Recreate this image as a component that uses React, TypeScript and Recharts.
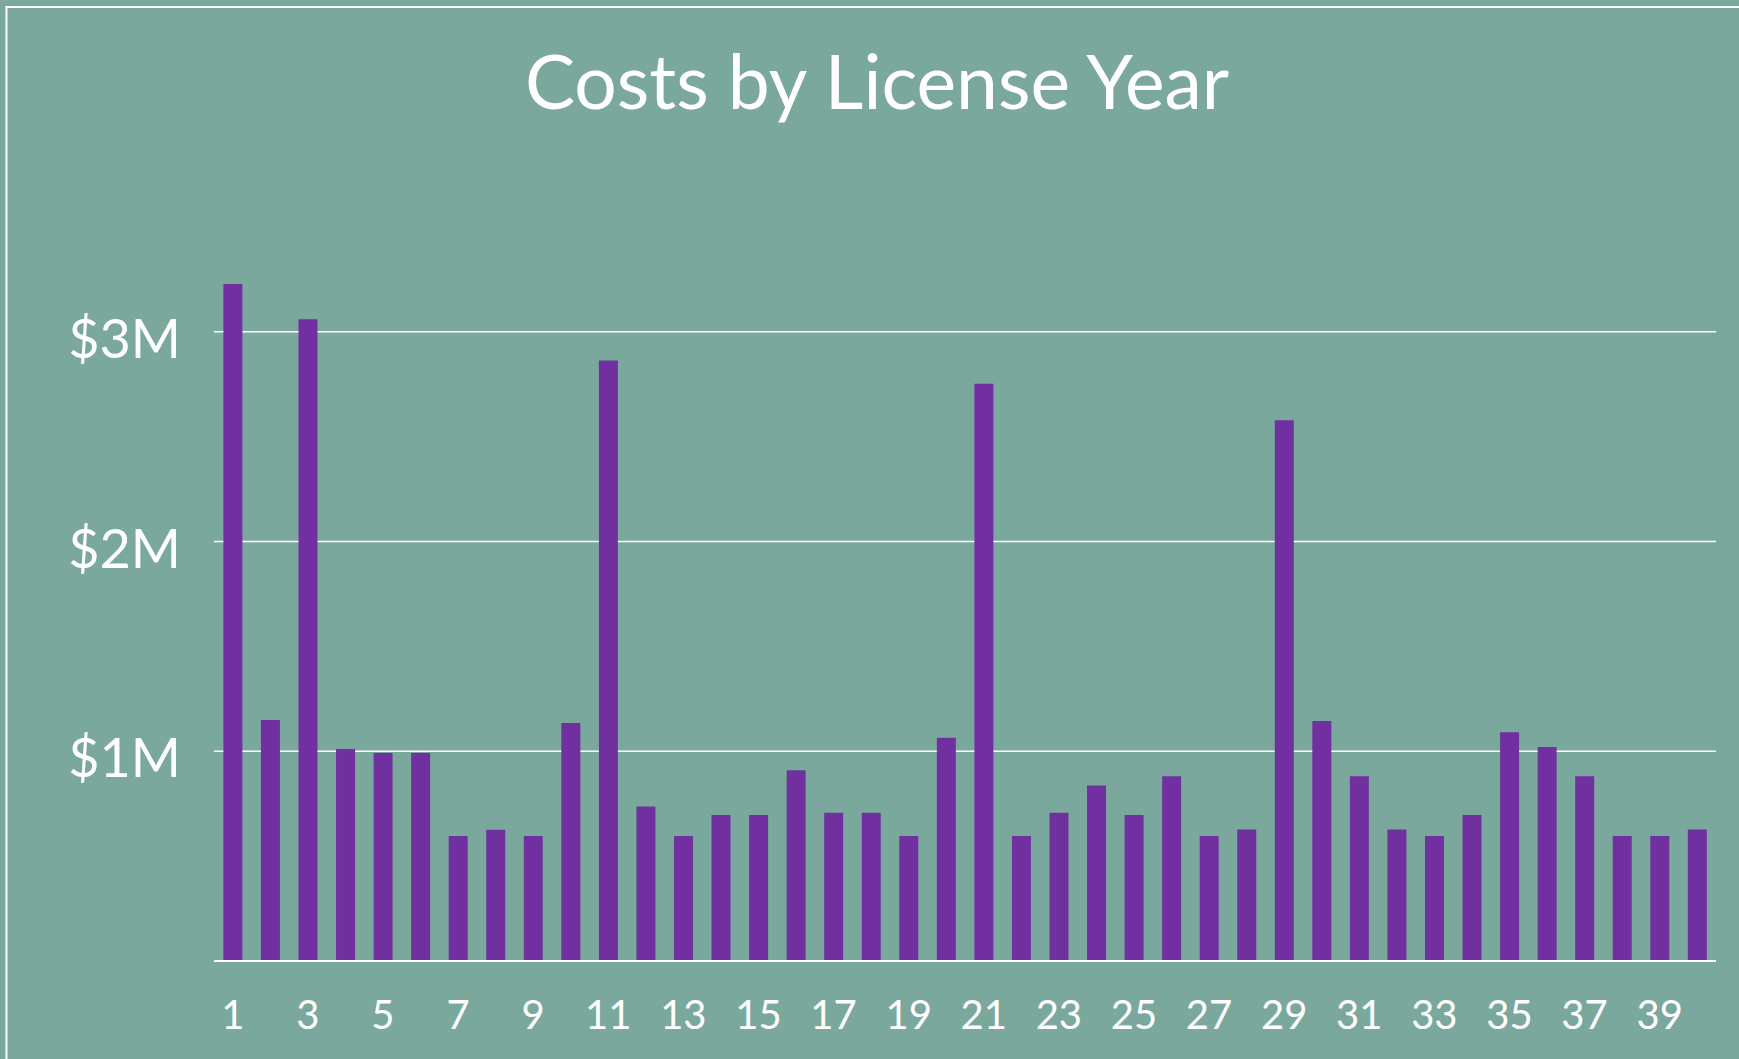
import { BarChart, Bar, XAxis, YAxis, CartesianGrid } from 'recharts';

const years = Array.from({ length: 40 }, (_, i) => String(i + 1));

// license cost per year, in dollars
const costs = [
  3228000, 1149000, 3060000, 1011000, 992000, 992000, 596000, 626000, 596000, 1135000,
  2863000, 737000, 596000, 696000, 696000, 910000, 707000, 707000, 596000, 1065000,
  2752000, 596000, 707000, 837000, 696000, 881000, 596000, 627000, 2579000, 1145000,
  881000, 627000, 596000, 696000, 1091000, 1020000, 881000, 596000, 596000, 627000,
];

const yTicks = [0, 1000000, 2000000, 3000000];

const BG = '#7BA89C';
const PURPLE = '#7030A0';
const FONT = 'Lato, "Open Sans", sans-serif';

export default function App() {
  const data = years.map((y, i) => ({ year: y, cost: costs[i] }));

  return (
    <div
      style={{
        position: 'absolute', left: 0, top: 0, width: 1739, height: 1059,
        background: BG, overflow: 'hidden', fontFamily: FONT,
      }}
    >
      <svg width={1739} height={1059} style={{ position: 'absolute', left: 0, top: 0 }}>
        <rect x={6.5} y={7} width={1800} height={1200} fill="none" stroke="#fff" strokeWidth={2} />
        <text x={877} y={109} textAnchor="middle" fill="#fff" fontSize={75} fontFamily={FONT}>
          Costs by License Year
        </text>
      </svg>
      <div style={{ position: 'absolute', left: 0, top: 0 }}>
        <BarChart
          width={1739}
          height={1059}
          data={data}
          margin={{ top: 227, right: 23, bottom: 0, left: 0 }}
          barCategoryGap="25%"
        >
          <CartesianGrid vertical={false} horizontalValues={yTicks} stroke="#fff" strokeWidth={1.5} />
          <XAxis
            dataKey="year"
            height={98}
            interval={1}
            tickLine={false}
            tickSize={0}
            tickMargin={40}
            axisLine={{ stroke: '#fff', strokeWidth: 2 }}
            tick={{ fill: '#fff', fontSize: 40, fontFamily: FONT }}
          />
          <YAxis
            width={214}
            domain={[0, 3500000]}
            ticks={yTicks}
            tickFormatter={(v: number) => (v === 0 ? '' : `$${v / 1000000}M`)}
            axisLine={false}
            tickLine={false}
            tickSize={0}
            tickMargin={33}
            tick={{ fill: '#fff', fontSize: 54, fontFamily: FONT, dy: 7 }}
          />
          <Bar dataKey="cost" fill={PURPLE} isAnimationActive={false} />
        </BarChart>
      </div>
    </div>
  );
}
